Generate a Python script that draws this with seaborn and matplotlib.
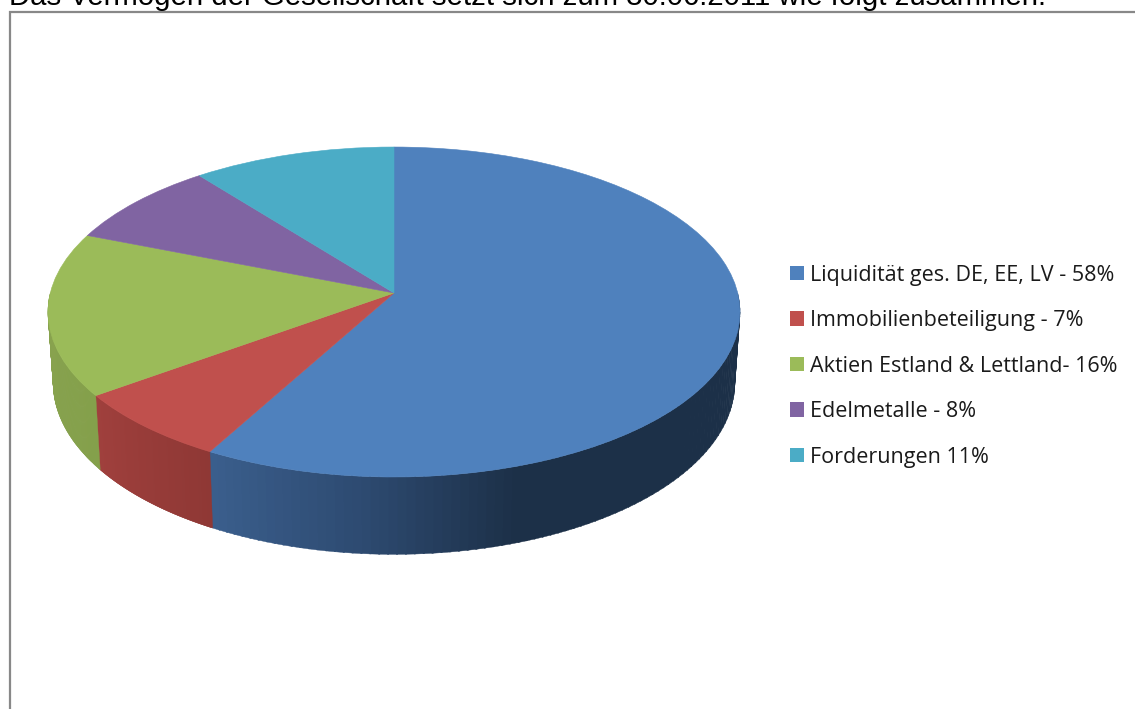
import numpy as np
import matplotlib
matplotlib.use("Agg")
import matplotlib.pyplot as plt
from matplotlib.transforms import Transform
from matplotlib.patches import Polygon, Patch
from matplotlib.colors import to_rgb
import seaborn as sns

title = "Das Vermögen der Gesellschaft setzt sich zum 30.06.2011 wie folgt zusammen."
categories = ["Liquidität ges. DE, EE, LV - 58%", "Immobilienbeteiligung - 7%",
              "Aktien Estland & Lettland- 16%", "Edelmetalle - 8%", "Forderungen 11%"]
shares = [58, 7, 16, 8.4, 10.6]
top_colors = ["#4F81BD", "#C0504D", "#9BBB59", "#8064A2", "#4BACC6"]
side_light = ["#3B5F8E", "#A0403D", "#8CA552", "#604B7A", "#38819A"]
side_dark = ["#1C3048", "#8F3835", "#84A04B", "#604B7A", "#38819A"]

sns.set_theme(style="white")
W, H = 1135, 709
fig = plt.figure(figsize=(W / 100, H / 100), dpi=100, facecolor="white")
ax = fig.add_axes([0, 0, 1, 1])

CX, CY, AX_, BY, K = 394.0, 293.0, 343.7, 162.8, -0.1152


class Tilt(Transform):
    """Perspective projection of the unit pie disc onto the page."""
    input_dims = output_dims = 2

    def transform_non_affine(self, xy):
        xy = np.asarray(xy, float)
        u, v = xy[:, 0], -xy[:, 1]
        d = 1 + K * v
        return np.column_stack([CX + AX_ * u / d, CY + BY * v / d])


def rim(theta, lower=False):
    u, v = np.sin(theta), -np.cos(theta)
    d = 1 + K * v
    x, y = AX_ * u / d, BY * v / d
    if lower:
        x, y = 0.985 * x, 1.04 * y + 70
    return CX + x, CY + y


edges = np.radians(np.cumsum([0] + shares) * 3.6)

wedges, _ = ax.pie(shares, colors=top_colors, startangle=90, counterclock=False,
                   radius=1, center=(0, 0), wedgeprops=dict(linewidth=0.4))
ax.set_aspect("auto")
ax.set_xlim(0, W)
ax.set_ylim(H, 0)
ax.axis("off")
tilt = Tilt() + ax.transData
for w, c in zip(wedges, top_colors):
    w.set_transform(tilt)
    w.set_edgecolor(c)
    w.set_zorder(5)

# side wall, drawn as thin shaded strips from the wedge angles
mid_blue = np.array(to_rgb("#2D4A70"))
for i in range(len(shares)):
    a0, a1 = edges[i], edges[i + 1]
    lo, hi = max(a0, np.pi / 2), min(a1, 3 * np.pi / 2)
    if hi <= lo:
        continue
    light, dark = np.array(to_rgb(side_light[i])), np.array(to_rgb(side_dark[i]))
    steps = np.linspace(lo, hi, 90)
    for t0, t1 in zip(steps[:-1], steps[1:]):
        if i == 0:
            # the blue wall darkens towards the right of the page
            x0 = rim(t0)[0]
            col = np.array([np.interp(x0, [208, 370, 520], [light[c], mid_blue[c], dark[c]])
                            for c in range(3)])
        else:
            f = (t0 - a0) / max(a1 - a0, 1e-6)
            col = dark * (1 - f) + light * f
        ts = np.array([t0, t1 + 0.004])
        top = np.column_stack(rim(ts))
        bot = np.column_stack(rim(ts, True))[::-1]
        ax.add_patch(Polygon(np.vstack([top, bot]), closed=True, fc=col, ec=col, lw=0.3, zorder=3))

# page frame
ax.plot([9.5, 9.5, W], [H, 11.5, 11.5], color="#888888", lw=1.6, solid_joinstyle="miter", zorder=6)

ax.text(9, 5, title, family="Liberation Sans", fontsize=21.15, color="#000000",
        ha="left", va="baseline", zorder=7)

handles = [Patch(facecolor=c, edgecolor="none") for c in top_colors]
leg = ax.legend(handles, categories, loc="upper left", bbox_to_anchor=(790 / W, 1 - 264.5 / H),
                bbox_transform=fig.transFigure, frameon=False, borderpad=0, borderaxespad=0,
                handlelength=0.65, handleheight=0.65, handletextpad=0.28, labelspacing=1.14,
                prop=dict(family="Open Sans", size=15.5))
for t in leg.get_texts():
    t.set_color("#1a1a1a")

fig.savefig("out.png", dpi=100, facecolor="white")
